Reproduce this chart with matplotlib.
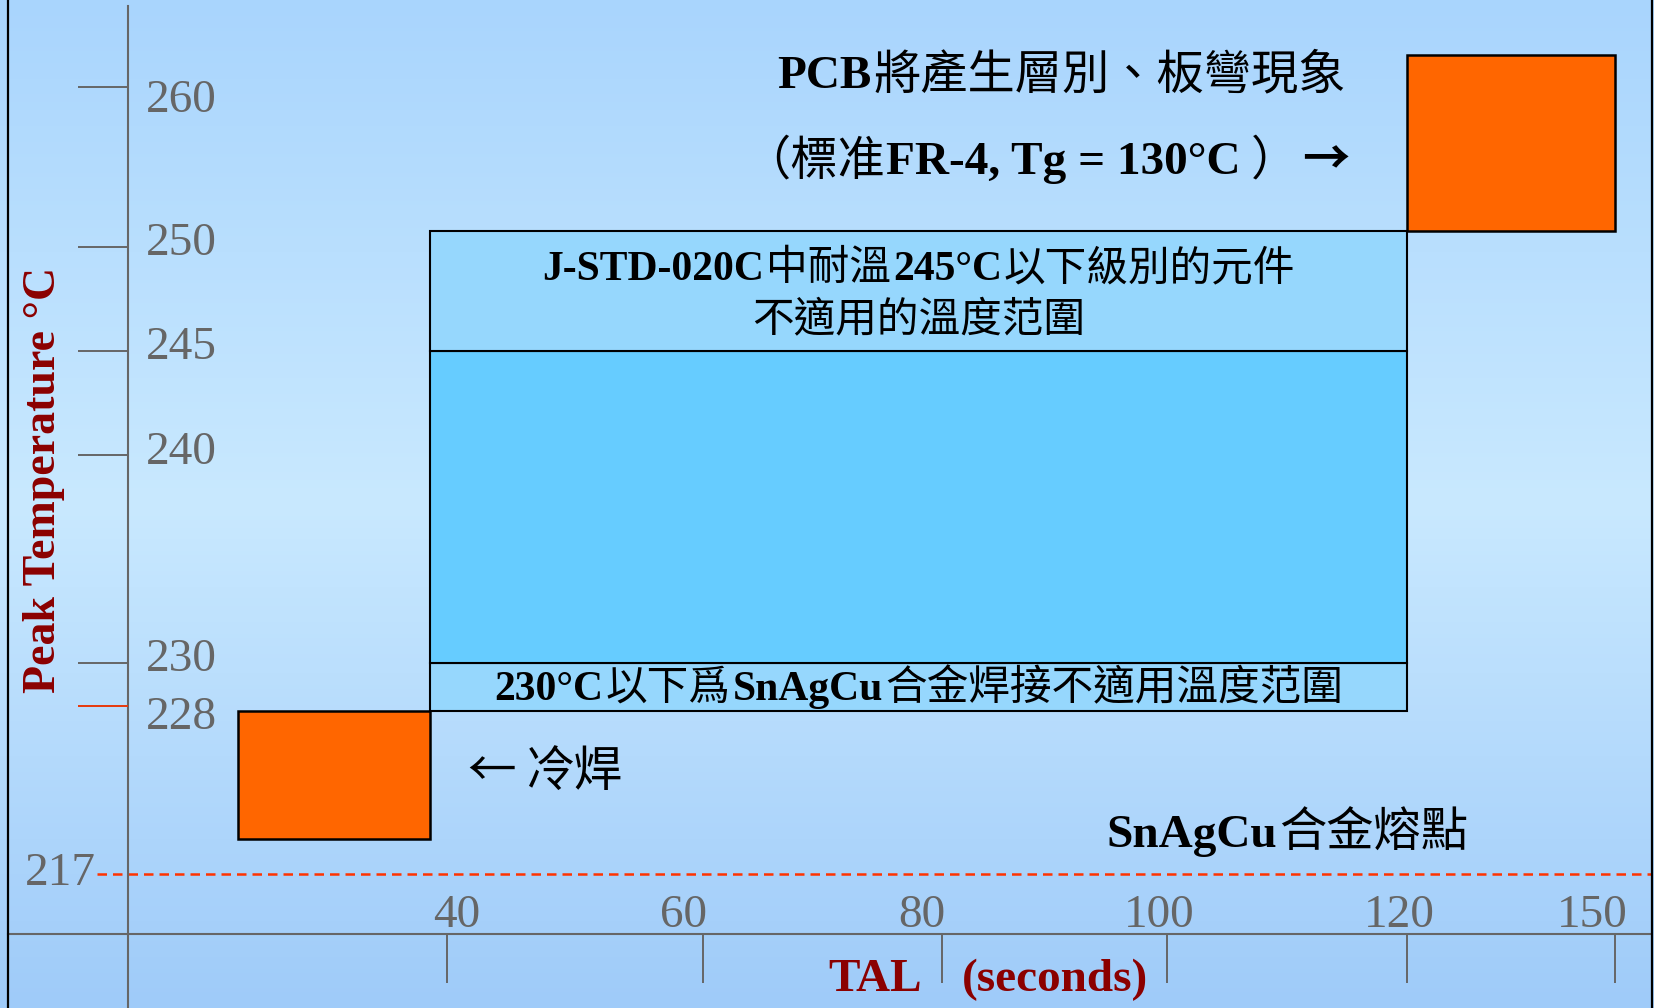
import numpy as np
import matplotlib
matplotlib.use("Agg")
import matplotlib.pyplot as plt
from matplotlib.colors import LinearSegmentedColormap
from matplotlib.transforms import offset_copy

# ---------------- data ----------------
X_TICKS = [40, 60, 80, 100, 120, 150]            # TAL (seconds)
Y_TICKS = [228, 230, 240, 245, 250, 260]          # peak temperature (°C)
MELT_POINT = 217                                  # SnAgCu melting point

COLD_WELD_TAL = (23.6, 38.7)
COLD_WELD_TEMP = (219.3, 227.7)

BAND_TAL = (38.7, 120)
BAND_EDGES = [227.7, 230, 245, 251]               # lower band / process window / upper band
PCB_TAL = (120, 150)
PCB_TEMP = (251, 262)

# ---------------- layout (piecewise axis breaks, pixels) ----------------
W, H = 1654, 1008
TAL_BREAKS = [5, 15, 40, 60, 80, 100, 120, 150, 156]
TAL_PX = [0, 128, 447, 703, 942, 1167, 1407, 1615, 1657]
TEMP_BREAKS = [208, 217, 228, 230, 240, 245, 250, 260, 266]
TEMP_PX_TOP = [1012, 874, 706, 663, 455, 351, 247, 87, -9]
TEMP_PX = [H - p for p in TEMP_PX_TOP]

AXIS_TAL = 15        # where the temperature axis crosses
AXIS_TEMP = 213.1    # where the TAL axis crosses

GRAY = "#666666"
DARK_RED = "#8b0000"
ORANGE = "#ff6600"
RED_LINE = "#ff3300"
BAND_COLORS = ["#96d7fd", "#66ccff", "#96d7fd"]

SERIF = ["Liberation Serif", "DejaVu Serif"]
LATIN = dict(family=SERIF, fontweight="bold", color="black")
CJK = dict(family=["Noto Sans CJK TC", "DejaVu Sans"], fontweight="normal", color="black")
ARROW_B = dict(family=["Noto Sans CJK TC", "DejaVu Sans"], fontweight="bold", color="black")
ARROW_R = dict(family=["Noto Sans CJK TC", "DejaVu Sans"], fontweight="normal", color="black")


def fx(v):
    return np.interp(v, TAL_BREAKS, TAL_PX)


def fx_inv(p):
    return np.interp(p, TAL_PX, TAL_BREAKS)


def fy(v):
    return np.interp(v, TEMP_BREAKS, TEMP_PX)


def fy_inv(p):
    return np.interp(p, TEMP_PX, TEMP_BREAKS)


fig = plt.figure(figsize=(W / 100, H / 100), dpi=100)

# background gradient
bg = fig.add_axes([0, 0, 1, 1], zorder=0)
bg.axis("off")
cmap = LinearSegmentedColormap.from_list(
    "slide", [(0, "#a9d5fd"), (0.5, "#c9e9ff"), (1, "#9fcbf9")])
bg.imshow(np.linspace(0, 1, 256)[:, None], aspect="auto", cmap=cmap,
          extent=[0, 1, 0, 1])

ax = fig.add_axes([0, 0, 1, 1], zorder=1)
ax.patch.set_alpha(0)
ax.set_xscale("function", functions=(fx, fx_inv))
ax.set_yscale("function", functions=(fy, fy_inv))
ax.set_xlim(fx_inv(0), fx_inv(W))
ax.set_ylim(fy_inv(0), fy_inv(H))

# axes through the origin
for s in ("top", "right"):
    ax.spines[s].set_visible(False)
ax.spines["left"].set_position(("data", AXIS_TAL))
ax.spines["bottom"].set_position(("data", AXIS_TEMP))
ax.spines["left"].set_bounds(fy_inv(0), fy_inv(H - 6))
ax.spines["bottom"].set_bounds(fx_inv(8), fx_inv(1651))
for s in ("left", "bottom"):
    ax.spines[s].set_color(GRAY)
    ax.spines[s].set_linewidth(1.5)

ax.set_xticks(X_TICKS)
ax.set_yticks(Y_TICKS)
ax.minorticks_off()
ax.tick_params(axis="y", direction="out", length=36, width=1.4, color=GRAY,
               labelleft=False)
ax.tick_params(axis="x", direction="out", length=35, width=1.4, color=GRAY,
               labelbottom=False)
# the 228 °C tick is drawn in red
ax.hlines(228, fx_inv(78), AXIS_TAL, colors=RED_LINE, linewidth=1.2, zorder=4)

# tick labels (set slightly off their ticks); nudges in pixels, + = down
y_nudge = {260: 14, 250: -3, 245: -3, 240: -2, 230: -3, 228: 12}
for v in Y_TICKS:
    ax.annotate(str(v), xy=(146 / W, v), xycoords=("axes fraction", "data"),
                xytext=(0, -y_nudge[v] * 0.72), textcoords="offset points",
                ha="left", va="center", fontsize=34, color=GRAY, family=SERIF)
x_nudge = {40: 10, 60: -20, 80: -20, 100: -8, 120: -8, 150: -23}
for v in X_TICKS:
    ax.annotate(str(v), xy=(v, AXIS_TEMP), xycoords="data",
                xytext=(x_nudge[v] * 0.72, 18 * 0.72), textcoords="offset points",
                ha="center", va="center", fontsize=34, color=GRAY, family=SERIF)
ax.annotate(str(MELT_POINT), xy=(96 / W, MELT_POINT), xycoords=("axes fraction", "data"),
            xytext=(0, 0), textcoords="offset points", ha="right", va="center",
            fontsize=34, color=GRAY, family=SERIF)

# melting point line
ax.hlines(MELT_POINT, fx_inv(97), fx_inv(1652), colors=RED_LINE, linewidth=1.8,
          linestyles=(0, (3.8, 2.4)), zorder=2)

# boxes
ax.bar(COLD_WELD_TAL[0], COLD_WELD_TEMP[1] - COLD_WELD_TEMP[0],
       width=COLD_WELD_TAL[1] - COLD_WELD_TAL[0], bottom=COLD_WELD_TEMP[0],
       align="edge", color=ORANGE, edgecolor="black", linewidth=1.8, zorder=3)
for lo, hi, c in zip(BAND_EDGES[:-1], BAND_EDGES[1:], BAND_COLORS):
    ax.bar(BAND_TAL[0], hi - lo, width=BAND_TAL[1] - BAND_TAL[0], bottom=lo,
           align="edge", color=c, edgecolor="black", linewidth=1.5, zorder=3)
ax.bar(PCB_TAL[0], PCB_TEMP[1] - PCB_TEMP[0], width=PCB_TAL[1] - PCB_TAL[0],
       bottom=PCB_TEMP[0], align="edge", color=ORANGE, edgecolor="black",
       linewidth=1.8, zorder=3)

# frame edges of the slide
for xp in (8, 1652):
    ax.plot([xp / W, xp / W], [0, 1], transform=ax.transAxes, color="black",
            lw=1.6, clip_on=False, zorder=5)

# axis titles
ax.text(44 / W, 1 - 480 / H, "Peak Temperature °C", rotation=90, ha="center",
        va="center", fontsize=33, color=DARK_RED, transform=ax.transAxes,
        fontweight="bold", family=SERIF)
ax.text(875 / W, 1 - 980 / H, "TAL", ha="center", va="center", fontsize=34,
        color=DARK_RED, transform=ax.transAxes, fontweight="bold", family=SERIF)
ax.text(1055 / W, 1 - 980 / H, "(seconds)", ha="center", va="center", fontsize=34,
        color=DARK_RED, transform=ax.transAxes, fontweight="bold", family=SERIF)

renderer = fig.canvas.get_renderer()


def rich_text(x, y, pieces, size, align="left"):
    """Lay out mixed-font pieces (text, style, gap after) on one baseline."""
    base = ax.transAxes
    items, cursor, last_gap = [], 0.0, 0
    for s, style, gap in pieces:
        t = ax.text(x, y, s, transform=base, ha="left", va="baseline",
                    fontsize=size, zorder=6, **style)
        w = t.get_window_extent(renderer).width
        items.append((t, cursor))
        cursor += w + gap
        last_gap = gap
    total = cursor - last_gap
    start = {"left": 0, "center": -total / 2, "right": -total}[align]
    for t, off in items:
        t.set_transform(offset_copy(base, fig=fig, x=start + off, y=0, units="dots"))


band_cx = (fx(BAND_TAL[0]) + fx(BAND_TAL[1])) / 2 / W

rich_text(1062 / W, 1 - 88 / H,
          [("PCB", LATIN, 2), ("將產生層別、板彎現象", CJK, 0)], 34, "center")
rich_text(1046 / W, 1 - 174 / H,
          [("（標准", CJK, 1), ("FR-4, Tg = 130°C", LATIN, 10), ("）", CJK, 4),
           ("→", ARROW_B, 0)], 34, "center")
rich_text(band_cx, 1 - 280 / H,
          [("J-STD-020C", LATIN, 2), ("中耐溫", CJK, 2), ("245°C", LATIN, 2),
           ("以下級別的元件", CJK, 0)], 30, "center")
rich_text(band_cx, 1 - 332 / H, [("不適用的溫度范圍", CJK, 0)], 30, "center")
rich_text(band_cx, 1 - 700 / H,
          [("230°C", LATIN, 2), ("以下爲", CJK, 2), ("SnAgCu", LATIN, 2),
           ("合金焊接不適用溫度范圍", CJK, 0)], 30, "center")
rich_text(467 / W, 1 - 786 / H, [("←", ARROW_R, 10), ("冷焊", CJK, 0)], 35, "left")
rich_text(1106 / W, 1 - 847 / H, [("SnAgCu", LATIN, 2), ("合金熔點", CJK, 0)], 34, "left")

fig.savefig("out.png", dpi=100)
